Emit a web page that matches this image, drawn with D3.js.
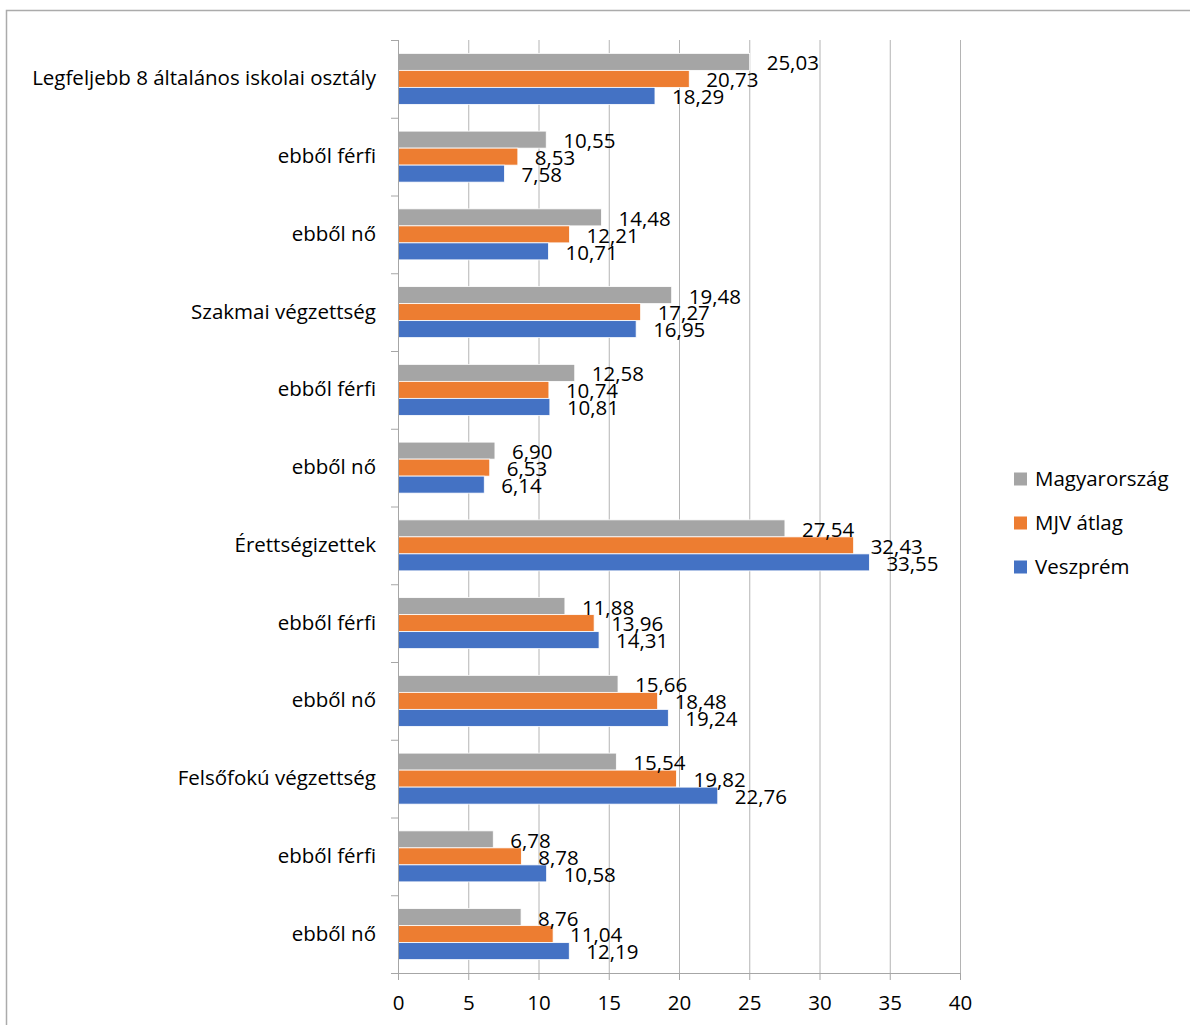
<!DOCTYPE html>
<html>
<head>
<meta charset="utf-8">
<script src="https://cdn.jsdelivr.net/npm/d3@7"></script>
<style>
  body { margin: 0; background: #fff; }
  text { font-family: "Open Sans", sans-serif; fill: #000; }
</style>
</head>
<body>
<svg id="chart" width="1190" height="1025"></svg>
<script>
// data
var categories = ["Legfeljebb 8 általános iskolai osztály", "ebből férfi", "ebből nő",
  "Szakmai végzettség", "ebből férfi", "ebből nő",
  "Érettségizettek", "ebből férfi", "ebből nő",
  "Felsőfokú végzettség", "ebből férfi", "ebből nő"];
var seriesNames = ["Magyarország", "MJV átlag", "Veszprém"];
var magyarorszag = [25.03, 10.55, 14.48, 19.48, 12.58, 6.90, 27.54, 11.88, 15.66, 15.54, 6.78, 8.76];
var mjvAtlag     = [20.73, 8.53, 12.21, 17.27, 10.74, 6.53, 32.43, 13.96, 18.48, 19.82, 8.78, 11.04];
var veszprem     = [18.29, 7.58, 10.71, 16.95, 10.81, 6.14, 33.55, 14.31, 19.24, 22.76, 10.58, 12.19];
var xTicks = [0, 5, 10, 15, 20, 25, 30, 35, 40];
var colors = ["#a5a5a5", "#ed7d31", "#4472c4"];

var seriesValues = [magyarorszag, mjvAtlag, veszprem];
var fontSize = 20.5;

var svg = d3.select("#chart"),
    margin = {top: 40, left: 398},
    width = 562,
    height = 933;

// chart border
svg.append("rect")
    .attr("x", 6.5).attr("y", 10.5)
    .attr("width", 1300).attr("height", 1100)
    .attr("fill", "none")
    .attr("stroke", "#ababab")
    .attr("stroke-width", 1.5);

var g = svg.append("g").attr("transform", "translate(" + margin.left + "," + margin.top + ")");

var x = d3.scaleLinear().domain([0, 40]).range([0, width]);

var y0 = d3.scaleBand()
    .domain(d3.range(categories.length))
    .range([0, height]);

var y1 = d3.scaleBand()
    .domain(d3.range(seriesNames.length))
    .range([0, y0.bandwidth() * 0.656]);

// grid lines
g.append("g")
  .selectAll("line")
  .data(xTicks.slice(1))
  .enter().append("line")
    .attr("x1", function(d) { return x(d) + 0.5; })
    .attr("x2", function(d) { return x(d) + 0.5; })
    .attr("y1", 0)
    .attr("y2", height)
    .attr("stroke", "#b4b4b4")
    .attr("stroke-width", 1);

// bars
var groups = g.selectAll(".grp")
  .data(categories)
  .enter().append("g")
    .attr("class", "grp")
    .attr("transform", function(d, i) { return "translate(0," + (y0(i) + y0.bandwidth() * 0.172) + ")"; });

groups.selectAll("rect")
  .data(function(d, i) { return seriesValues.map(function(s, k) { return {k: k, value: s[i]}; }); })
  .enter().append("rect")
    .attr("x", 0)
    .attr("y", function(d) { return y1(d.k); })
    .attr("width", function(d) { return x(d.value); })
    .attr("height", y1.bandwidth())
    .attr("fill", function(d) { return colors[d.k]; })
    .attr("stroke", "#fff")
    .attr("stroke-width", 0.8);

groups.selectAll(".label")
  .data(function(d, i) { return seriesValues.map(function(s, k) { return {k: k, value: s[i]}; }); })
  .enter().append("text")
    .attr("class", "label")
    .attr("x", function(d) { return x(d.value) + 17; })
    .attr("y", function(d) { return y1(d.k) + y1.bandwidth() / 2 + 1; })
    .attr("dy", "0.36em")
    .attr("font-size", fontSize)
    .text(function(d) { return d.value.toFixed(2).replace(".", ","); });

// y axis
var yAxis = g.append("g")
    .call(d3.axisLeft(y0).tickSize(0).tickFormat(function(i) { return categories[i]; }));
yAxis.select(".domain").remove();
yAxis.selectAll("text")
    .attr("x", -22)
    .attr("font-size", fontSize)
    .attr("font-family", "'Open Sans', sans-serif");

g.append("g")
  .selectAll("line")
  .data(d3.range(categories.length + 1))
  .enter().append("line")
    .attr("x1", -7).attr("x2", 0)
    .attr("y1", function(i) { return i * y0.step() + 0.5; })
    .attr("y2", function(i) { return i * y0.step() + 0.5; })
    .attr("stroke", "#a6a6a6");

g.append("line")
    .attr("x1", 0.5).attr("x2", 0.5)
    .attr("y1", 0).attr("y2", height)
    .attr("stroke", "#a6a6a6");

// x axis
var xAxis = g.append("g")
    .attr("transform", "translate(0," + height + ")")
    .call(d3.axisBottom(x).tickValues(xTicks).tickSize(7).tickPadding(15));
xAxis.select(".domain").attr("stroke", "#a6a6a6");
xAxis.selectAll(".tick line").attr("stroke", "#a6a6a6");
xAxis.selectAll("text")
    .attr("font-size", fontSize)
    .attr("font-family", "'Open Sans', sans-serif");

// legend
var legend = svg.append("g")
  .selectAll("g")
  .data(seriesNames)
  .enter().append("g")
    .attr("transform", function(d, i) { return "translate(1014," + (479 + i * 44) + ")"; });

legend.append("rect")
    .attr("x", 0).attr("y", -6.5)
    .attr("width", 13).attr("height", 13)
    .attr("fill", function(d, i) { return colors[i]; });

legend.append("text")
    .attr("x", 21)
    .attr("dy", "0.36em")
    .attr("font-size", fontSize)
    .text(function(d) { return d; });
</script>
</body>
</html>
